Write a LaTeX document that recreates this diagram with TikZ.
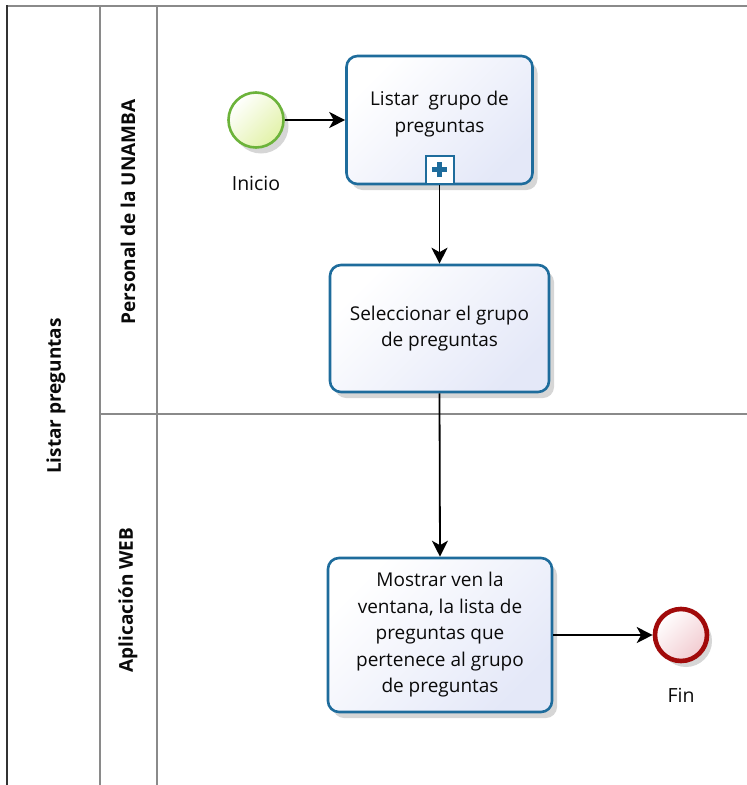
\documentclass[tikz,border=0pt]{standalone}
\usepackage{fontspec}
\setmainfont{Open Sans}
\usetikzlibrary{arrows.meta,shadows}
\definecolor{taskborder}{HTML}{1E6C9C}
\definecolor{taskfill}{HTML}{E4E8F8}
\definecolor{startborder}{HTML}{6CB33A}
\definecolor{startfill}{HTML}{E2F2A8}
\definecolor{endborder}{HTML}{A10A0A}
\definecolor{endfill}{HTML}{F2CBD0}
\definecolor{lanegray}{HTML}{8A8A8A}
\definecolor{txt}{HTML}{0A0A0A}
\begin{document}
\begin{tikzpicture}[x=1pt,y=-1pt,
  lanerule/.style={draw=lanegray, line width=1.6pt},
  lanelabel/.style={rotate=90, text=txt, font=\fontsize{19}{22}\selectfont\bfseries, inner sep=0pt},
  softshadow/.style={drop shadow={shadow xshift=5pt, shadow yshift=-6pt, opacity=0.16, fill=black}},
  task/.style={draw=taskborder, line width=2.6pt, rounded corners=11pt,
    top color=white, bottom color=taskfill, shading angle=45,
    softshadow, align=center, inner sep=0pt, text=txt,
    font=\fontsize{19}{26.5}\selectfont},
  tasktext/.style={align=center, inner sep=0pt, text=txt, font=\fontsize{19}{26.5}\selectfont},
  startev/.style={circle, draw=startborder, line width=2.6pt, minimum size=55pt, inner sep=0pt,
    top color=white, bottom color=startfill, shading angle=45, softshadow},
  endev/.style={circle, draw=endborder, line width=4.6pt, minimum size=52pt, inner sep=0pt,
    top color=white, bottom color=endfill, shading angle=45, softshadow},
  evlabel/.style={text=txt, font=\fontsize{19.5}{22}\selectfont, inner sep=0pt},
  flow/.style={draw=black, line width=1.8pt, -{Stealth[length=16pt,width=16pt,inset=4.5pt]}},
]
\useasboundingbox (0,0) rectangle (747,785);
\fill[white] (0,0) rectangle (747,785);

% pool and lanes
\draw[lanerule] (7,6) -- (747,6);
\draw[draw=black!80, line width=1.6pt] (7,5.2) -- (7,785);
\draw[lanerule] (100,6) -- (100,785);
\draw[lanerule] (157,6) -- (157,785);
\draw[lanerule] (100,414) -- (747,414);

\node[lanelabel] (pool) at (56,396) {Listar preguntas};
\node[lanelabel] (lane1) at (128,212) {Personal de la UNAMBA};
\node[lanelabel] (lane2) at (128,600) {Aplicación WEB};

% events
\node[startev] (start) at (256,120) {};
\node[evlabel] (startlbl) at (256,183) {Inicio};
\node[endev] (fin) at (681,635) {};
\node[evlabel] (finlbl) at (681,695) {Fin};

% tasks
\node[task, minimum width=186pt, minimum height=128pt] (t1) at (439.5,120) {};
\node[tasktext] (t1text) at (439.5,114) {Listar~~grupo de\\preguntas};
\node[draw=taskborder, line width=2pt, fill=white, minimum size=28pt, inner sep=0pt, anchor=south] (m1) at (439.5,184.5) {};
\draw[draw=taskborder, line width=5pt] ([xshift=-7.5pt]m1.center) -- ([xshift=7.5pt]m1.center);
\draw[draw=taskborder, line width=5pt] ([yshift=-7.5pt]m1.center) -- ([yshift=7.5pt]m1.center);

\node[task, minimum width=219pt, minimum height=127pt] (t2) at (439.5,328.5)
  {Seleccionar el grupo\\de preguntas};

\node[task, minimum width=224pt, minimum height=154pt] (t3) at (440,635)
  {Mostrar ven la\\ventana, la lista de\\preguntas que\\pertenece al grupo\\de preguntas};

% flows
\draw[flow] (start) -- (t1.west);
\draw[flow] (m1.south) -- (t2.north);
\draw[flow] (t2.south) -- (t3.north);
\draw[flow] (t3.east) -- (fin.west);
\end{tikzpicture}
\end{document}
